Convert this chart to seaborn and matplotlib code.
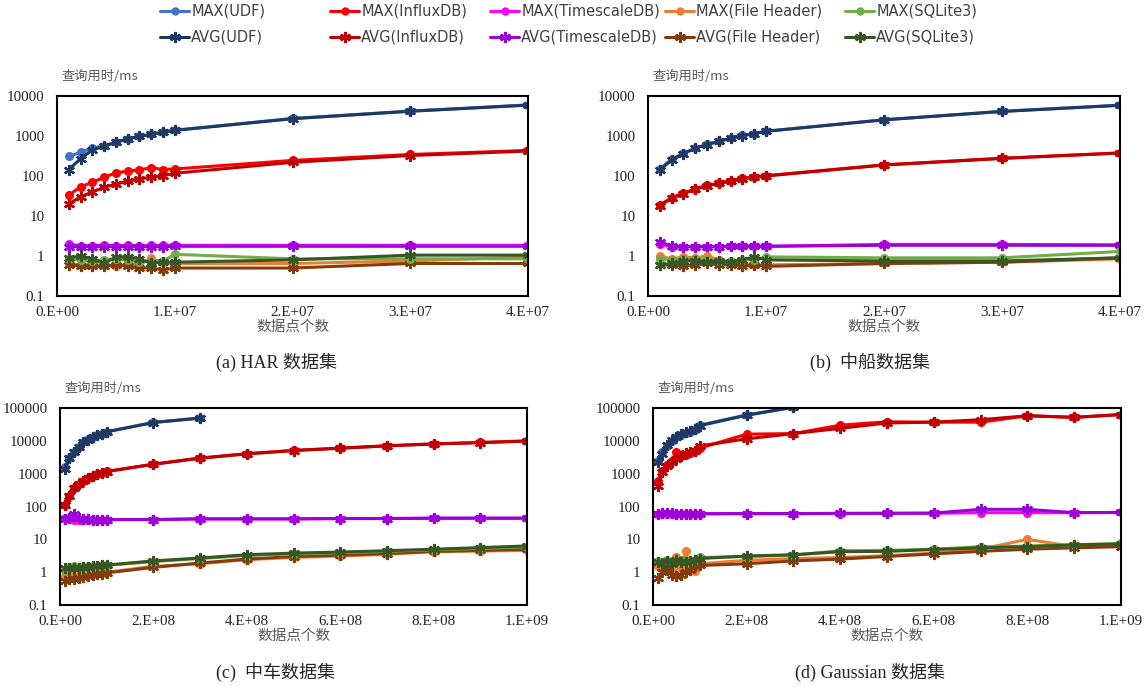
import numpy as np
import pandas as pd
import matplotlib
matplotlib.use('Agg')
import matplotlib.pyplot as plt
import seaborn as sns
from matplotlib.lines import Line2D
from matplotlib.ticker import FuncFormatter, FixedLocator, NullLocator

sns.set_theme(style='white')
plt.rcParams['font.family'] = ['Liberation Serif', 'Noto Sans CJK SC']

# x values (number of data points)
x_small = [1e6, 2e6, 3e6, 4e6, 5e6, 6e6, 7e6, 8e6, 9e6, 1e7, 2e7, 3e7, 4e7]
x_large = [1e7, 2e7, 3e7, 4e7, 5e7, 6e7, 7e7, 8e7, 9e7, 1e8,
           2e8, 3e8, 4e8, 5e8, 6e8, 7e8, 8e8, 9e8, 1e9]

# (a) HAR
har_udf_max = [310, 390, 500, 570, 700, 860, 980, 1100, 1250, 1400, 2750, 4200, 6000]
har_udf_avg = [145, 270, 450, 550, 700, 850, 975, 1100, 1250, 1380, 2700, 4150, 5900]
har_influx_max = [33, 54, 69, 93, 120, 133, 142, 162, 145, 150, 245, 345, 435]
har_influx_avg = [20, 30, 40, 52, 63, 74, 85, 93, 102, 117, 220, 325, 420]
har_ts_max = [2.0, 1.8, 1.8, 1.9, 1.8, 1.85, 1.8, 1.85, 1.85, 1.85, 1.85, 1.85, 1.85]
har_ts_avg = [1.7, 1.7, 1.7, 1.7, 1.7, 1.7, 1.7, 1.7, 1.7, 1.75, 1.75, 1.75, 1.75]
har_fh_max = [0.65, 0.6, 0.6, 0.6, 0.55, 0.65, 0.6, 0.9, 0.65, 0.65, 0.65, 0.75, 0.95]
har_fh_avg = [0.6, 0.55, 0.55, 0.55, 0.6, 0.55, 0.5, 0.5, 0.45, 0.5, 0.5, 0.65, 0.65]
har_sq_max = [0.85, 0.8, 0.75, 0.8, 0.85, 0.8, 0.7, 0.75, 0.75, 1.1, 0.85, 0.85, 0.85]
har_sq_avg = [0.9, 1.0, 0.85, 0.65, 0.95, 0.95, 0.85, 0.65, 0.7, 0.7, 0.8, 1.05, 1.05]

# (b) 中船
cs_udf_max = [150, 260, 370, 500, 615, 740, 880, 1030, 1150, 1320, 2550, 4150, 5900]
cs_udf_avg = [140, 255, 365, 490, 610, 735, 875, 1020, 1140, 1310, 2530, 4100, 5850]
cs_influx_max = [18.5, 29, 37, 48, 58, 66, 76, 87, 93, 102, 190, 278, 378]
cs_influx_avg = [18, 28, 36, 47, 57, 65, 75, 86, 92, 100, 188, 275, 375]
cs_ts_max = [2.0, 1.7, 1.7, 1.7, 1.7, 1.7, 1.75, 1.75, 1.75, 1.75, 1.95, 1.95, 1.9]
cs_ts_avg = [2.3, 1.75, 1.7, 1.7, 1.7, 1.7, 1.75, 1.75, 1.75, 1.75, 1.85, 1.85, 1.85]
cs_fh_max = [1.0, 0.85, 0.95, 0.9, 1.0, 0.8, 0.65, 0.65, 0.6, 0.6, 0.65, 0.7, 0.85]
cs_fh_avg = [0.6, 0.6, 0.55, 0.6, 0.65, 0.6, 0.6, 0.55, 0.6, 0.55, 0.65, 0.7, 0.9]
cs_sq_max = [0.85, 0.8, 0.85, 0.85, 0.8, 0.75, 0.75, 0.8, 0.8, 0.95, 0.9, 0.9, 1.3]
cs_sq_avg = [0.6, 0.65, 0.75, 0.75, 0.7, 0.75, 0.7, 0.8, 0.95, 0.8, 0.75, 0.75, 0.9]

# (c) 中车
cr_udf_max = [1650, 3000, 4600, 6700, 9000, 11000, 12800, 14700, 16500, 19000, 36500, 50000]
cr_udf_avg = [1400, 2900, 4500, 6600, 8900, 10900, 12700, 14600, 16400, 18800, 36000, 49000]
cr_influx_max = [115, 215, 365, 490, 610, 740, 870, 980, 1050, 1170,
                 1950, 3000, 4050, 5100, 6000, 7100, 8100, 8900, 10000]
cr_influx_avg = [110, 210, 360, 485, 600, 730, 860, 970, 1040, 1160,
                 1930, 2950, 4000, 5050, 5950, 7000, 8000, 8800, 9800]
cr_ts_max = [45, 42, 40, 40, 40, 40, 40, 40, 40, 40, 40, 42, 42, 42, 43, 43, 44, 44, 44]
cr_ts_avg = [42, 45, 60, 45, 42, 41, 40, 40, 40, 40, 40, 42, 42, 42, 43, 43, 44, 44, 44]
cr_fh_max = [0.75, 0.8, 0.8, 0.8, 0.85, 0.85, 0.9, 0.9, 0.95, 1.0,
             1.5, 1.8, 2.4, 2.8, 3.1, 3.5, 4.2, 4.4, 4.6]
cr_fh_avg = [0.55, 0.6, 0.6, 0.65, 0.7, 0.75, 0.8, 0.85, 0.9, 0.95,
             1.4, 1.9, 2.5, 3.0, 3.3, 3.7, 4.3, 4.6, 5.0]
cr_sq_max = [1.2, 1.4, 1.5, 1.4, 1.4, 1.5, 1.5, 1.5, 1.6, 1.6,
             2.1, 2.6, 3.2, 3.6, 3.9, 4.3, 4.8, 5.3, 5.9]
cr_sq_avg = [1.3, 1.3, 1.3, 1.35, 1.4, 1.45, 1.5, 1.55, 1.6, 1.65,
             2.2, 2.7, 3.4, 3.8, 4.1, 4.5, 5.0, 5.6, 6.3]

# (d) Gaussian
ga_udf_max = [2500, 4500, 7000, 10000, 13000, 15000, 17000, 19000, 22000, 30000, 62000, 105000]
ga_udf_avg = [2200, 4000, 7500, 10500, 13500, 16000, 18000, 20000, 23000, 29000, 60000, 105000]
ga_influx_max = [600, 1200, 1800, 2500, 4500, 3500, 3800, 4200, 5000, 6000,
                 16000, 16600, 30000, 38000, 37000, 37000, 58000, 52000, 63000]
ga_influx_avg = [430, 1100, 1700, 2300, 2800, 3500, 4200, 4500, 5000, 7000,
                 11500, 16600, 24000, 35000, 37000, 44000, 58000, 52000, 63000]
ga_ts_max = [60, 60, 60, 60, 60, 60, 60, 60, 60, 60, 60, 60, 61, 62, 62, 65, 65, 65, 66]
ga_ts_avg = [60, 62, 65, 62, 60, 60, 60, 60, 60, 60, 61, 61, 62, 62, 63, 82, 82, 65, 66]
ga_fh_max = [1.5, 2.0, 1.8, 1.2, 2.8, 1.3, 4.3, 1.2, 1.1, 1.8,
             2.3, 2.6, 2.8, 3.2, 3.8, 5.0, 10, 6.0, 6.3]
ga_fh_avg = [0.65, 1.0, 1.2, 0.8, 0.75, 0.8, 1.0, 1.2, 1.5, 1.6,
             1.8, 2.2, 2.5, 3.0, 3.6, 4.3, 5.0, 5.5, 6.0]
ga_sq_max = [2.2, 2.0, 2.3, 2.0, 2.2, 2.3, 2.0, 2.2, 2.3, 2.8,
             3.0, 3.3, 4.5, 4.6, 5.0, 6.0, 6.2, 6.8, 7.5]
ga_sq_avg = [2.0, 1.8, 2.2, 1.8, 2.3, 2.0, 2.0, 2.2, 2.3, 2.6,
             3.1, 3.4, 4.2, 4.3, 4.9, 5.5, 6.0, 6.8, 7.2]

db_names = ['UDF', 'InfluxDB', 'TimescaleDB', 'File Header', 'SQLite3']
max_colors = ['#4472C4', '#FF0000', '#FF00FF', '#ED7D31', '#70AD47']
avg_colors = ['#203864', '#C00000', '#9A00D8', '#843C0C', '#375623']
STAR = (6, 2, 0)

panels = [
    dict(caption='(a) HAR 数据集', x=x_small, xmax=4e7, ymax=1e4,
         xticks=[0, 1e7, 2e7, 3e7, 4e7], box=(57, 96, 528, 296), cap=(276, 362),
         series=[(har_udf_max, har_udf_avg), (har_influx_max, har_influx_avg),
                 (har_ts_max, har_ts_avg), (har_fh_max, har_fh_avg), (har_sq_max, har_sq_avg)]),
    dict(caption='(b)  中船数据集', x=x_small, xmax=4e7, ymax=1e4,
         xticks=[0, 1e7, 2e7, 3e7, 4e7], box=(648, 96, 1120, 296), cap=(870, 362),
         series=[(cs_udf_max, cs_udf_avg), (cs_influx_max, cs_influx_avg),
                 (cs_ts_max, cs_ts_avg), (cs_fh_max, cs_fh_avg), (cs_sq_max, cs_sq_avg)]),
    dict(caption='(c)  中车数据集', x=x_large, xmax=1e9, ymax=1e5,
         xticks=[0, 2e8, 4e8, 6e8, 8e8, 1e9], box=(60, 408, 527, 605), cap=(276, 672),
         series=[(cr_udf_max, cr_udf_avg), (cr_influx_max, cr_influx_avg),
                 (cr_ts_max, cr_ts_avg), (cr_fh_max, cr_fh_avg), (cr_sq_max, cr_sq_avg)]),
    dict(caption='(d) Gaussian 数据集', x=x_large, xmax=1e9, ymax=1e5,
         xticks=[0, 2e8, 4e8, 6e8, 8e8, 1e9], box=(653, 408, 1121, 605), cap=(870, 672),
         series=[(ga_udf_max, ga_udf_avg), (ga_influx_max, ga_influx_avg),
                 (ga_ts_max, ga_ts_avg), (ga_fh_max, ga_fh_avg), (ga_sq_max, ga_sq_avg)]),
]

W, H = 1148, 687
fig = plt.figure(figsize=(W / 100, H / 100), dpi=100)


def sci_label(v, _):
    if v == 0:
        return '0.E+00'
    e = int(np.floor(np.log10(v) + 1e-9))
    m = int(round(v / 10 ** e))
    return f'{m}.E+{e:02d}'


for p in panels:
    l, t, r, b = p['box']
    ax = fig.add_axes([l / W, 1 - b / H, (r - l) / W, (b - t) / H])
    ax.set_yscale('log')
    for i, (mx, av) in enumerate(p['series']):
        for vals, col, mk, ms, mew in [(mx, max_colors[i], 'o', 5.5, 1.0),
                                       (av, avg_colors[i], STAR, 8, 1.6)]:
            df = pd.DataFrame({'n': p['x'][:len(vals)], 't': vals})
            sns.lineplot(data=df, x='n', y='t', ax=ax, color=col, linewidth=2.2,
                         marker=mk, markersize=ms, markeredgecolor=col,
                         markeredgewidth=mew, estimator=None, legend=False)
    ax.set_xlim(0, p['xmax'])
    ax.set_ylim(0.1, p['ymax'])
    ax.xaxis.set_major_locator(FixedLocator(p['xticks']))
    ax.xaxis.set_major_formatter(FuncFormatter(sci_label))
    ax.yaxis.set_major_locator(FixedLocator([10.0 ** k for k in range(-1, int(np.log10(p['ymax'])) + 1)]))
    ax.yaxis.set_major_formatter(FuncFormatter(lambda v, _: f'{v:g}'))
    ax.yaxis.set_minor_locator(NullLocator())
    ax.tick_params(length=0, labelsize=10.8, colors='#222222')
    ax.tick_params(axis='x', pad=7)
    ax.tick_params(axis='y', pad=9)
    for s in ax.spines.values():
        s.set_color('black')
        s.set_linewidth(1.5)
    ax.set_ylabel('')
    ax.set_xlabel('数据点个数', fontsize=10.5, color='#595959', labelpad=1,
                  family=['Noto Sans CJK SC'])
    fig.text((l + 5) / W, 1 - (t - 20) / H, '查询用时/ms', fontsize=9.5,
             color='#595959', ha='left', va='center', family=['Noto Sans CJK SC'])
    fig.text(p['cap'][0] / W, 1 - p['cap'][1] / H, p['caption'], fontsize=13,
             ha='center', va='center', family=['Liberation Serif', 'Noto Sans CJK SC'])

# legend: one block per database, MAX on the first row, AVG on the second
leg_x = [160, 330, 490, 665, 845]
for i, name in enumerate(db_names):
    handles = [Line2D([], [], color=max_colors[i], lw=2.2, marker='o', ms=5,
                      mec=max_colors[i]),
               Line2D([], [], color=avg_colors[i], lw=2.2, marker=STAR, ms=8,
                      mec=avg_colors[i], mew=1.6)]
    labels = [f'MAX({name})', f'AVG({name})']
    fig.legend(handles, labels, loc='upper left', bbox_to_anchor=(leg_x[i] / W, 1 - 4 / H),
               frameon=False, borderpad=0, borderaxespad=0, handlelength=2.0,
               handletextpad=0.15, labelspacing=0.75,
               prop={'family': 'DejaVu Sans', 'size': 10.5}, labelcolor='#404040')

fig.savefig('out.png', dpi=100, facecolor='white')
